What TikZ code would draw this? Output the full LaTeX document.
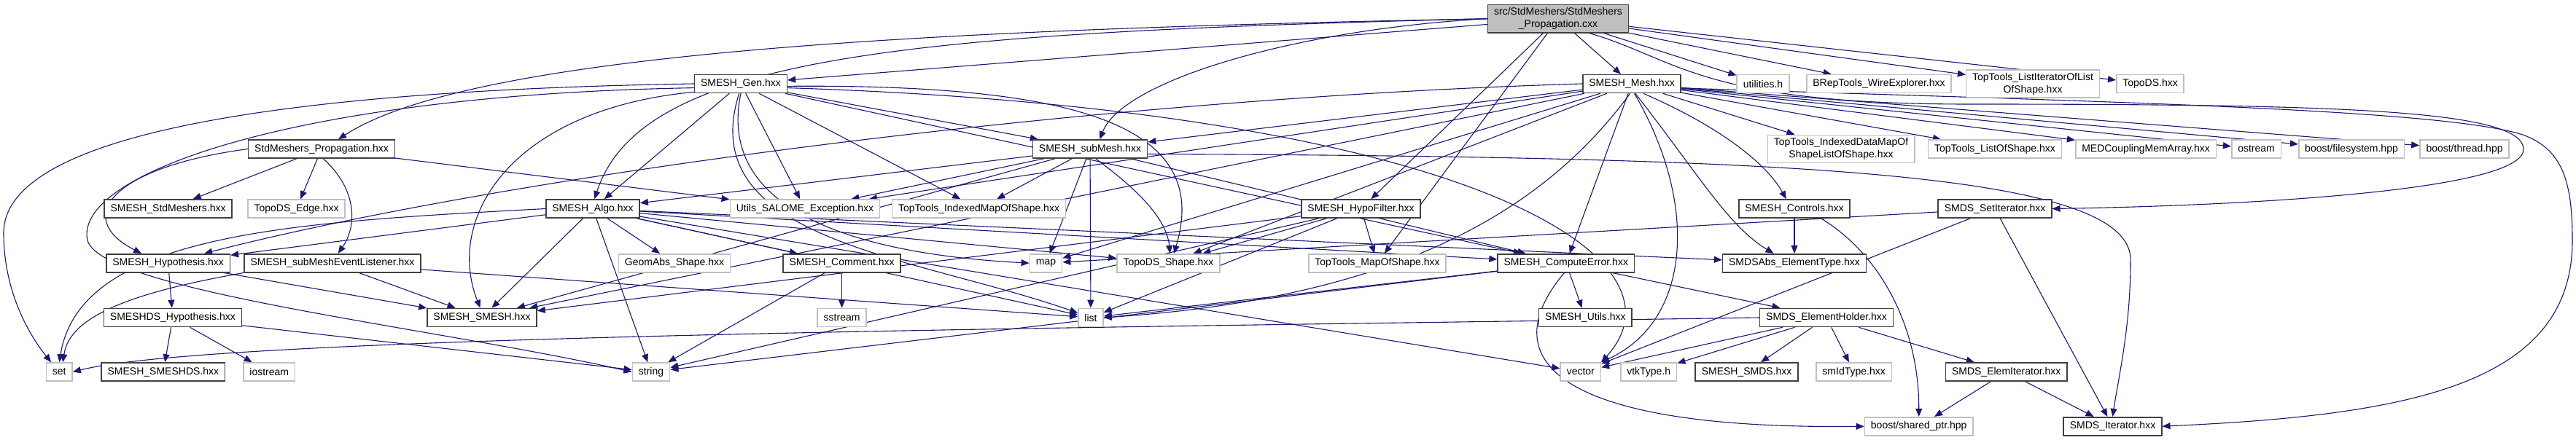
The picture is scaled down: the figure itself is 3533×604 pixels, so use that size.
\documentclass[tikz,border=0pt]{standalone}
\usepackage{fontspec}
\setmainfont{Liberation Sans}
\usetikzlibrary{arrows.meta,backgrounds}

\definecolor{edgeblue}{HTML}{191970}
\definecolor{extgray}{HTML}{BFBFBF}
\definecolor{docgray}{HTML}{404040}

\begin{document}
\begin{tikzpicture}[x=1pt, y=-1pt,
	box/.style={rectangle, fill=white, line width=1.6pt, minimum height=25pt,
		inner xsep=8.5pt, inner ysep=4pt, align=center,
		font=\fontsize{14}{17}\selectfont},
	doc/.style={box, draw=docgray},
	ext/.style={box, draw=extgray},
	dep/.style={draw=edgeblue, line width=1.1pt,
		-{Triangle[length=11pt, width=9pt]}}]

	% ---- parameters

	\def\rowA{25.7}
	\def\rowB{115}
	\def\rowC{204.5}
	\def\rowD{286.5}
	\def\rowE{361.2}
	\def\rowF{436}
	\def\rowG{510.5}
	\def\rowH{585.2}

	\useasboundingbox (0,0) rectangle (3533,604);

	% ---- file nodes

	\node[doc, fill=extgray] (root) at (2137,\rowA) {src/StdMeshers/StdMeshers\\\_Propagation.cxx};

	\node[doc] (gen)        at (1016,\rowB) {SMESH\_Gen.hxx};
	\node[doc] (mesh)       at (2238,\rowB) {SMESH\_Mesh.hxx};
	\node[ext] (utilities)  at (2418,\rowB) {utilities.h};
	\node[ext] (breptools)  at (2577,\rowB) {BRepTools\_WireExplorer.hxx};
	\node[ext] (listiter)   at (2788,\rowB) {TopTools\_ListIteratorOfList\\OfShape.hxx};
	\node[ext] (topods)     at (2949,\rowB) {TopoDS.hxx};

	\node[doc] (sphxx)       at (441,\rowC)  {StdMeshers\_Propagation.hxx};
	\node[doc] (submesh)     at (1495,\rowC) {SMESH\_subMesh.hxx};
	\node[ext] (idxdatamap)  at (2525,\rowC) {TopTools\_IndexedDataMapOf\\ShapeListOfShape.hxx};
	\node[ext] (listofshape) at (2736,\rowC) {TopTools\_ListOfShape.hxx};
	\node[ext] (medcoupling) at (2943,\rowC) {MEDCouplingMemArray.hxx};
	\node[ext] (ostream)     at (3094.5,\rowC) {ostream};
	\node[ext] (filesystem)  at (3225,\rowC) {boost/filesystem.hpp};
	\node[ext] (thread)      at (3380,\rowC) {boost/thread.hpp};

	\node[doc] (stdmeshers) at (230.6,\rowD)  {SMESH\_StdMeshers.hxx};
	\node[ext] (topoedge)   at (406.6,\rowD)  {TopoDS\_Edge.hxx};
	\node[doc] (algo)       at (813,\rowD)    {SMESH\_Algo.hxx};
	\node[ext] (utils)      at (1104,\rowD)   {Utils\_SALOME\_Exception.hxx};
	\node[ext] (idxmap)     at (1342.5,\rowD) {TopTools\_IndexedMapOfShape.hxx};
	\node[doc] (hypofilter) at (1866.6,\rowD) {SMESH\_HypoFilter.hxx};
	\node[doc] (controls)   at (2461,\rowD)   {SMESH\_Controls.hxx};
	\node[doc] (setiter)    at (2736,\rowD)   {SMDS\_SetIterator.hxx};

	\node[doc] (hypothesis)   at (230.6,\rowE)  {SMESH\_Hypothesis.hxx};
	\node[doc] (listener)     at (456,\rowE)    {SMESH\_subMeshEventListener.hxx};
	\node[ext] (geomabs)      at (925,\rowE)    {GeomAbs\_Shape.hxx};
	\node[doc] (comment)      at (1154.6,\rowE) {SMESH\_Comment.hxx};
	\node[ext] (map)          at (1434.5,\rowE) {map};
	\node[ext] (shape)        at (1602.4,\rowE) {TopoDS\_Shape.hxx};
	\node[ext] (mapofshape)   at (1889,\rowE)   {TopTools\_MapOfShape.hxx};
	\node[doc] (computeerror) at (2147.8,\rowE) {SMESH\_ComputeError.hxx};
	\node[doc] (smdsabs)      at (2461,\rowE)   {SMDSAbs\_ElementType.hxx};

	\node[doc] (dshypothesis) at (236.9,\rowF)  {SMESHDS\_Hypothesis.hxx};
	\node[doc] (smesh)        at (661,\rowF)    {SMESH\_SMESH.hxx};
	\node[ext] (sstream)      at (1154.6,\rowF) {sstream};
	\node[ext] (list)         at (1496,\rowF)   {list};
	\node[doc] (smeshutils)   at (2174.4,\rowF) {SMESH\_Utils.hxx};
	\node[doc] (holder)       at (2505,\rowF)   {SMDS\_ElementHolder.hxx};

	\node[ext] (set)      at (81.3,\rowG)   {set};
	\node[doc] (smeshds)  at (223.9,\rowG)  {SMESH\_SMESHDS.hxx};
	\node[ext] (iostream) at (369.3,\rowG)  {iostream};
	\node[ext] (string)   at (893,\rowG)    {string};
	\node[ext] (vector)   at (2167.8,\rowG) {vector};
	\node[ext] (vtktype)  at (2261.2,\rowG) {vtkType.h};
	\node[doc] (smds)     at (2395.6,\rowG) {SMESH\_SMDS.hxx};
	\node[ext] (smidtype) at (2542.6,\rowG) {smIdType.hxx};
	\node[doc] (elemiter) at (2751.7,\rowG) {SMDS\_ElemIterator.hxx};

	\node[ext] (sharedptr) at (2631.7,\rowH) {boost/shared\_ptr.hpp};
	\node[doc] (iterator)  at (2897.5,\rowH) {SMDS\_Iterator.hxx};

	\begin{scope}[on background layer]

	% ---- includes of the source file

	\draw[dep] (root.west) .. controls (1300,40) and (650,70) .. (sphxx.30);
	\draw[dep] (root.west) .. controls (1250,45) and (880,75) .. (algo.80);
	\draw[dep] (root.west) .. controls (1780,40) and (1540,110) .. (submesh.45);
	\draw[dep] (root) -- (gen);
	\draw[dep] (root) -- (mesh);
	\draw[dep] (root) -- (hypofilter);
	\draw[dep] (root) -- (mapofshape);
	\draw[dep] (root) -- (utilities);
	\draw[dep] (root) -- (breptools);
	\draw[dep] (root) -- (listiter);
	\draw[dep] (root) -- (topods);
	\draw[dep] (root.-25) .. controls (2300,80) and (2330,143) .. (2700,143)
		.. controls (3200,143) and (3461,150) .. (3461,205)
		.. controls (3461,260) and (3100,282) .. (setiter.east);

	% ---- StdMeshers_Propagation.hxx

	\draw[dep] (sphxx) -- (stdmeshers);
	\draw[dep] (sphxx) -- (topoedge);
	\draw[dep] (sphxx) -- (utils);
	\draw[dep] (sphxx.west) .. controls (150,230) and (100,300) .. (hypothesis.160);
	\draw[dep] (sphxx.-80) .. controls (490,260) and (490,310) .. (listener.60);

	% ---- SMESH_Gen.hxx

	\draw[dep] (gen) -- (algo);
	\draw[dep] (gen) -- (submesh);
	\draw[dep] (gen) -- (utils);
	\draw[dep] (gen) -- (idxmap);
	\draw[dep] (gen) -- (computeerror);
	\draw[dep] (gen.190) .. controls (700,150) and (610,300) .. (smesh.100);
	\draw[dep] (gen.west) .. controls (350,125) and (5,190) .. (5,320)
		.. controls (5,400) and (40,460) .. (set.130);
	\draw[dep] (gen.185) .. controls (400,130) and (100,240) .. (120,330)
		.. controls (140,400) and (600,450) .. (string.west);
	\draw[dep] (gen.-100) .. controls (950,330) and (1250,350) .. (list.160);
	\draw[dep] (gen.-90) .. controls (980,300) and (1200,350) .. (map.west);
	\draw[dep] (gen.-3) .. controls (1500,115) and (1660,180) .. (shape.60);
	\draw[dep] (gen.-5) .. controls (2000,150) and (2330,350) .. (vector.north east);

	% ---- SMESH_Algo.hxx

	\draw[dep] (algo) -- (hypothesis);
	\draw[dep] (algo) -- (smesh);
	\draw[dep] (algo) -- (geomabs);
	\draw[dep] (algo) -- (comment);
	\draw[dep] (algo) -- (string);
	\draw[dep] (algo) -- (list);
	\draw[dep] (algo) -- (shape);
	\draw[dep] (algo) -- (computeerror);
	\draw[dep] (algo) -- (smdsabs);
	\draw[dep] (algo) -- (vector);
	\draw[dep] (algo.west) .. controls (400,305) and (110,320) .. (set.north);

	% ---- SMESH_subMesh.hxx

	\draw[dep] (submesh) -- (algo);
	\draw[dep] (submesh) -- (utils);
	\draw[dep] (submesh) -- (idxmap);
	\draw[dep] (submesh) -- (smesh);
	\draw[dep] (submesh) -- (map);
	\draw[dep] (submesh) -- (list);
	\draw[dep] (submesh) -- (computeerror);
	\draw[dep] (submesh.-60) .. controls (1560,260) and (1600,300) .. (shape.80);
	\draw[dep] (submesh.-5) .. controls (2500,215) and (2930,240) .. (2922,360)
		.. controls (2922,450) and (2905,520) .. (iterator.north);

	% ---- SMESH_Mesh.hxx

	\draw[dep] (mesh) -- (submesh);
	\draw[dep] (mesh) -- (utils);
	\draw[dep] (mesh) -- (smesh);
	\draw[dep] (mesh) -- (shape);
	\draw[dep] (mesh) -- (map);
	\draw[dep] (mesh) -- (computeerror);
	\draw[dep] (mesh) -- (idxdatamap);
	\draw[dep] (mesh) -- (listofshape);
	\draw[dep] (mesh) -- (medcoupling);
	\draw[dep] (mesh) -- (ostream);
	\draw[dep] (mesh) -- (filesystem);
	\draw[dep] (mesh) -- (thread);
	\draw[dep] (mesh.west) .. controls (1500,135) and (700,240) .. (hypothesis.15);
	\draw[dep] (mesh.-40) .. controls (2350,170) and (2420,220) .. (controls.130);
	\draw[dep] (mesh.-70) .. controls (2330,240) and (2370,310) .. (smdsabs.155);
	\draw[dep] (mesh.-75) .. controls (2330,280) and (2320,440) .. (vector.north east);
	\draw[dep] (mesh.-100) .. controls (2110,300) and (1900,410) .. (list.east);
	\draw[dep] (mesh.-5) .. controls (2900,140) and (3350,150) .. (3460,185)
		.. controls (3515,205) and (3528,250) .. (3528,330)
		.. controls (3528,530) and (3300,570) .. (iterator.east);

	% ---- SMESH_HypoFilter.hxx

	\draw[dep] (hypofilter) -- (smesh);
	\draw[dep] (hypofilter) -- (shape);
	\draw[dep] (hypofilter) -- (list);
	\draw[dep] (hypofilter) -- (string);
	\draw[dep] (hypofilter) -- (mapofshape);

	% ---- SMESH_ComputeError.hxx

	\draw[dep] (computeerror) -- (smeshutils);
	\draw[dep] (computeerror) -- (list);
	\draw[dep] (computeerror) -- (string);
	\draw[dep] (computeerror) -- (holder);
	\draw[dep] (computeerror.-100) .. controls (2040,500) and (2150,590) .. (sharedptr.west);

	% ---- SMDS headers

	\draw[dep] (controls) -- (smdsabs);
	\draw[dep] (controls.-20) .. controls (2580,350) and (2632,450) .. (sharedptr.north);
	\draw[dep] (setiter) -- (map);
	\draw[dep] (setiter) -- (vector);
	\draw[dep] (setiter) -- (iterator);
	\draw[dep] (holder) -- (vector);
	\draw[dep] (holder) -- (vtktype);
	\draw[dep] (holder) -- (smds);
	\draw[dep] (holder) -- (smidtype);
	\draw[dep] (holder) -- (elemiter);
	\draw[dep] (holder.west) .. controls (1500,450) and (300,460) .. (set.east);
	\draw[dep] (elemiter) -- (sharedptr);
	\draw[dep] (elemiter) -- (iterator);

	% ---- hypotheses, listener, comment

	\draw[dep] (hypothesis) -- (dshypothesis);
	\draw[dep] (hypothesis) -- (smesh);
	\draw[dep] (dshypothesis) -- (smeshds);
	\draw[dep] (dshypothesis) -- (iostream);
	\draw[dep] (dshypothesis) -- (string);
	\draw[dep] (listener) -- (smesh);
	\draw[dep] (listener) -- (list);
	\draw[dep] (listener.south west) .. controls (160,405) and (95,440) .. (set.70);
	\draw[dep] (comment) -- (sstream);
	\draw[dep] (comment) -- (string);

	\end{scope}

\end{tikzpicture}
\end{document}
